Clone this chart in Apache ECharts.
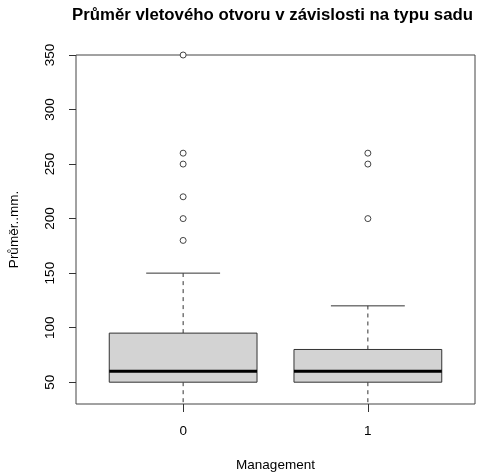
<!DOCTYPE html>
<html>
<head>
<meta charset="utf-8">
<script src="https://cdn.jsdelivr.net/npm/echarts@6/dist/echarts.min.js"></script>
<style>html,body{margin:0;padding:0;background:#fff}#c{width:481px;height:473px}</style>
</head>
<body>
<div id="c"></div>
<script>
// Data
var categories = ['0', '1'];
var positions = [1, 2];
// [low whisker, Q1, median, Q3, high whisker]
var lowWhisker = [20, 20];
var q1 = [50, 50];
var median = [60, 60];
var q3 = [95, 80];
var highWhisker = [150, 120];
var outliers0 = [350, 260, 250, 220, 200, 180];
var outliers1 = [260, 250, 200];
var yTicks = [50, 100, 150, 200, 250, 300, 350];

var font = '"Liberation Sans", Arial, Helvetica, sans-serif';
var boxData = positions.map(function (p, i) {
  return [p, lowWhisker[i], q1[i], median[i], q3[i], highWhisker[i]];
});
var outlierData = [];
outliers0.forEach(function (v) { outlierData.push([positions[0], v]); });
outliers1.forEach(function (v) { outlierData.push([positions[1], v]); });

var chart = echarts.init(document.getElementById('c'), null, {renderer: 'canvas'});
chart.setOption({
  animation: false,
  backgroundColor: '#fff',
  title: {
    text: 'Průměr vletového otvoru v závislosti na typu sadu',
    left: 72, top: 7, padding: 0,
    textStyle: {fontFamily: font, fontSize: 16.8, fontWeight: 'bold', color: '#000'}
  },
  grid: {left: 76, top: 55, width: 399, height: 349, show: true, borderColor: '#444', borderWidth: 1,
    backgroundColor: 'transparent', containLabel: false, outerBoundsMode: 'none'},
  xAxis: {
    type: 'value', min: 0.42, max: 2.58,
    name: 'Management', nameLocation: 'middle', nameGap: 54,
    nameTextStyle: {fontFamily: font, fontSize: 13.5, color: '#000'},
    axisLine: {show: false},
    splitLine: {show: false},
    axisTick: {show: true, inside: false, length: 8, customValues: positions, lineStyle: {color: '#333'}},
    axisLabel: {show: true, customValues: positions, margin: 20, fontFamily: font, fontSize: 13.5, color: '#000',
      formatter: function (v) { return categories[Math.round(v) - 1]; }}
  },
  yAxis: {
    type: 'value', min: 30, max: 350,
    name: 'Průměr..mm.', nameLocation: 'middle', nameRotate: 90, nameGap: 55,
    nameTextStyle: {fontFamily: font, fontSize: 13.5, color: '#000'},
    axisLine: {show: false},
    splitLine: {show: false},
    axisTick: {show: true, inside: false, length: 7, customValues: yTicks, lineStyle: {color: '#333'}},
    axisLabel: {show: true, customValues: yTicks, rotate: 90, margin: 19, fontFamily: font, fontSize: 13.5, color: '#000'}
  },
  series: [
    {
      type: 'custom',
      clip: true,
      data: boxData,
      encode: {x: 0, y: [1, 2, 3, 4, 5]},
      renderItem: function (params, api) {
        var x = api.value(0);
        var w = api.size([0.8, 0])[0];
        var pLow = api.coord([x, api.value(1)]);
        var pQ1 = api.coord([x, api.value(2)]);
        var pMed = api.coord([x, api.value(3)]);
        var pQ3 = api.coord([x, api.value(4)]);
        var pHigh = api.coord([x, api.value(5)]);
        var cx = pQ1[0];
        var dash = {stroke: '#333', lineWidth: 1, lineDash: [4, 4]};
        var solid = {stroke: '#333', lineWidth: 1};
        return {
          type: 'group',
          children: [
            {type: 'line', shape: {x1: cx, y1: pQ3[1], x2: cx, y2: pHigh[1]}, style: dash},
            {type: 'line', shape: {x1: cx, y1: pQ1[1], x2: cx, y2: pLow[1]}, style: dash},
            {type: 'line', shape: {x1: cx - w / 4, y1: pHigh[1], x2: cx + w / 4, y2: pHigh[1]}, style: solid},
            {type: 'line', shape: {x1: cx - w / 4, y1: pLow[1], x2: cx + w / 4, y2: pLow[1]}, style: solid},
            {type: 'rect', shape: {x: cx - w / 2, y: pQ3[1], width: w, height: pQ1[1] - pQ3[1]},
              style: {fill: '#d3d3d3', stroke: '#333', lineWidth: 1}},
            {type: 'line', shape: {x1: cx - w / 2, y1: pMed[1], x2: cx + w / 2, y2: pMed[1]},
              style: {stroke: '#000', lineWidth: 3}}
          ]
        };
      }
    },
    {
      type: 'scatter',
      data: outlierData,
      symbol: 'circle',
      symbolSize: 6,
      itemStyle: {color: '#ffffff', borderColor: '#444', borderWidth: 1, opacity: 1},
      clip: false,
      z: 5
    }
  ]
});
</script>
</body>
</html>
